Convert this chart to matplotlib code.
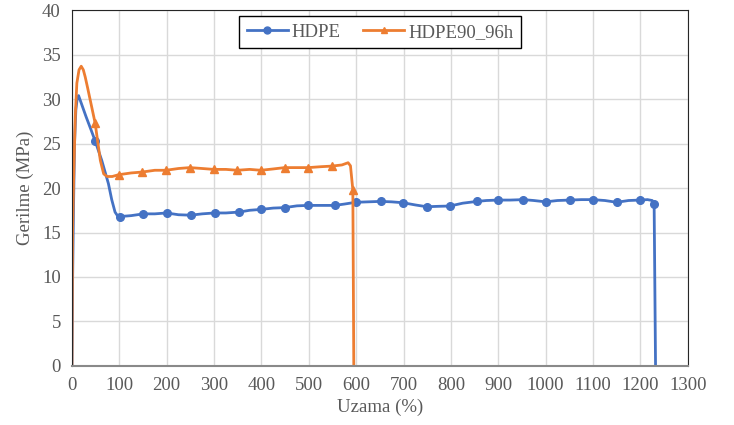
import matplotlib.pyplot as plt
from matplotlib.lines import Line2D

# Stress-strain curves, strain (%) vs stress (MPa)
hdpe_x = [0, 1.5, 3.4, 5.5, 8.3, 11, 14, 20, 30, 40, 49, 63, 77, 84, 91, 96, 102,
          125, 151, 175, 200, 225, 251, 275, 301, 325, 353, 375, 399, 425, 449,
          475, 499, 525, 555, 575, 599, 625, 652, 675, 699, 725, 749, 775, 798,
          825, 855, 875, 900, 925, 953, 975, 1000, 1025, 1051, 1075, 1099, 1125,
          1150, 1175, 1199, 1215, 1225, 1229, 1232]
hdpe_y = [0, 10, 18, 25, 28.8, 30, 30.4, 29.5, 28.0, 26.6, 25.3, 23.1, 20.5, 18.7,
          17.3, 16.9, 16.8, 16.9, 17.1, 17.1, 17.2, 17.0, 16.95, 17.1, 17.2, 17.2,
          17.3, 17.5, 17.6, 17.75, 17.8, 18.0, 18.05, 18.05, 18.05, 18.2, 18.4,
          18.45, 18.5, 18.45, 18.35, 18.1, 17.9, 17.95, 17.98, 18.3, 18.5, 18.6,
          18.65, 18.65, 18.7, 18.6, 18.45, 18.6, 18.65, 18.7, 18.7, 18.6, 18.4,
          18.6, 18.65, 18.7, 18.6, 18.25, 0]
hdpe_marks = [49, 102, 151, 200, 251, 301, 353, 399, 449, 499, 555, 599, 652, 699,
              749, 798, 855, 900, 953, 1000, 1051, 1099, 1150, 1199, 1229]

aged_x = [0, 1.3, 3.4, 7, 10.4, 15, 19.6, 24, 28, 33, 38.6, 49, 55, 60, 67, 74, 85,
          98.5, 125, 148, 175, 198.5, 225, 249, 275, 299, 325, 349, 375, 399, 425,
          449, 475, 499, 525, 549, 570, 583, 588, 593, 595]
aged_y = [0, 15, 20.6, 28, 31.8, 33.3, 33.7, 33.3, 32.5, 31.3, 29.9, 27.3, 25, 23.1,
          21.6, 21.3, 21.3, 21.5, 21.7, 21.8, 22.0, 22.0, 22.2, 22.3, 22.2, 22.1,
          22.1, 22.0, 22.1, 22.0, 22.15, 22.3, 22.3, 22.3, 22.4, 22.47, 22.6, 22.85,
          22.5, 19.8, 0]
aged_marks = [49, 98.5, 148, 198.5, 249, 299, 349, 399, 449, 499, 549, 593]

x_ticks = list(range(0, 1301, 100))
y_ticks = list(range(0, 41, 5))

plt.rcParams['font.family'] = ['Liberation Serif', 'DejaVu Serif']

blue = '#4472C4'
orange = '#ED7D31'

fig, ax = plt.subplots(figsize=(7.34, 4.25), dpi=100)
fig.subplots_adjust(left=0.098, right=0.937, top=0.976, bottom=0.139)

ax.plot(hdpe_x, hdpe_y, color=blue, lw=2, marker='o', ms=5.5,
        markevery=[hdpe_x.index(v) for v in hdpe_marks])
ax.plot(aged_x, aged_y, color=orange, lw=2, marker='^', ms=6,
        markevery=[aged_x.index(v) for v in aged_marks])

ax.set_xlim(0, 1300)
ax.set_ylim(0, 40)
ax.set_xticks(x_ticks)
ax.set_yticks(y_ticks)
ax.tick_params(length=0, labelsize=13.5, labelcolor='#595959', pad=8)
ax.grid(True, color='#D9D9D9', lw=1)
ax.set_axisbelow(True)
for side in ['left', 'right', 'top']:
    ax.spines[side].set_color('#262626')
ax.spines['bottom'].set_color('#898989')
ax.spines['bottom'].set_linewidth(1.5)

ax.set_xlabel('Uzama (%)', fontsize=13.5, color='#595959', labelpad=3)
ax.set_ylabel('Gerilme (MPa)', fontsize=13.5, color='#595959', labelpad=6)

handles = [Line2D([], [], color=blue, lw=2, marker='o', ms=5),
           Line2D([], [], color=orange, lw=2, marker='^', ms=5)]
leg = ax.legend(handles, ['HDPE', 'HDPE90_96h'], loc='upper center', ncol=2,
                bbox_to_anchor=(0.5, 0.983), borderaxespad=0, fontsize=13.5,
                fancybox=False, framealpha=1, edgecolor='black',
                handlelength=2.2, columnspacing=1.2, handletextpad=0.2,
                borderpad=0.4)
for t in leg.get_texts():
    t.set_color('#595959')

plt.savefig('out.png')
